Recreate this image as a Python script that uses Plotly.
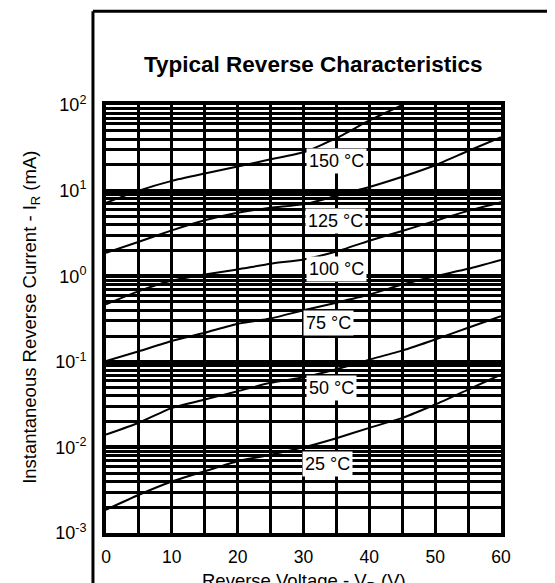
import math
import plotly.graph_objects as go

# Reverse voltage (V)
voltage = [0, 5, 10, 15, 20, 25, 30, 35, 40, 45, 50, 55, 60]

# Instantaneous reverse current (mA) per junction temperature
i_150 = [7.2, 10.0, 13.0, 15.8, 19.1, 23.2, 28.0, 41.0, 66.0, 100.0]
i_125 = [1.88, 2.53, 3.43, 4.5, 5.5, 6.3, 6.9, 8.7, 11.0, 14.5, 19.8, 29.0, 42.0]
i_100 = [0.47, 0.67, 0.89, 1.05, 1.2, 1.4, 1.57, 1.94, 2.6, 3.38, 4.43, 5.79, 7.3]
i_75 = [0.102, 0.133, 0.175, 0.218, 0.278, 0.32, 0.40, 0.49, 0.61, 0.80, 1.0, 1.22, 1.55]
i_50 = [0.0141, 0.0194, 0.029, 0.0362, 0.0454, 0.0568, 0.066, 0.082, 0.106, 0.135, 0.182, 0.25, 0.34]
i_25 = [0.00187, 0.0028, 0.0040, 0.00526, 0.0069, 0.0082, 0.0100, 0.0128, 0.0169, 0.0221, 0.0317, 0.0474, 0.071]

series = [i_150, i_125, i_100, i_75, i_50, i_25]

# Curve labels
label_text = ["150 °C", "125 °C", "100 °C", "75 °C", "50 °C", "25 °C"]
label_v = [35.0, 34.8, 35.0, 33.8, 34.2, 33.7]
label_i = [22.4, 4.42, 1.2, 0.286, 0.0497, 0.0064]

x_ticks = [0, 10, 20, 30, 40, 50, 60]
y_ticks = [1e-3, 1e-2, 1e-1, 1e0, 1e1, 1e2]
y_tick_text = ["10<sup>-3</sup>", "10<sup>-2</sup>", "10<sup>-1</sup>",
               "10<sup>0</sup>", "10<sup>1</sup>", "10<sup>2</sup>"]

FONT = "Arial, Liberation Sans, sans-serif"

fig = go.Figure()
for vals in series:
    fig.add_trace(go.Scatter(
        x=voltage[:len(vals)], y=vals, mode="lines",
        line=dict(color="black", width=2, shape="spline", smoothing=0.5),
        hoverinfo="skip", showlegend=False,
    ))

for t, v, i in zip(label_text, label_v, label_i):
    fig.add_annotation(x=v, y=math.log10(i), yref="y", xref="x", text=t, showarrow=False,
                       font=dict(family=FONT, size=18, color="black"),
                       bgcolor="white", borderpad=2)

# Title
fig.add_annotation(x=0.525, y=1.095, xref="paper", yref="paper",
                   text="<b>Typical Reverse Characteristics</b>", showarrow=False,
                   font=dict(family=FONT, size=22.5, color="black"),
                   xanchor="center", yanchor="middle")

# Y title
fig.add_annotation(x=-0.19, y=0.505, xref="paper", yref="paper",
                   text="Instantaneous Reverse Current - I<sub>R</sub> (mA)",
                   textangle=-90, showarrow=False,
                   font=dict(family=FONT, size=18.5, color="black"),
                   xanchor="center", yanchor="middle")

# X title
fig.add_annotation(x=0.5, y=-0.114, xref="paper", yref="paper",
                   text="Reverse Voltage - V<sub>R</sub> (V)", showarrow=False,
                   font=dict(family=FONT, size=18.5, color="black"),
                   xanchor="center", yanchor="middle")

# outer frame (left and top edge of the figure box)
fig.add_shape(type="line", xref="paper", yref="paper",
              x0=-0.033, x1=-0.033, y0=-0.3, y1=1.219,
              line=dict(color="black", width=3))
fig.add_shape(type="line", xref="paper", yref="paper",
              x0=-0.033, x1=1.5, y0=1.219, y1=1.219,
              line=dict(color="black", width=3))

fig.update_xaxes(
    range=[0, 60], tickvals=x_ticks, ticktext=[str(v) for v in x_ticks],
    showgrid=True, gridcolor="black", gridwidth=3,
    minor=dict(dtick=5, showgrid=True, gridcolor="black", gridwidth=3),
    showline=True, linecolor="black", linewidth=4, mirror=True,
    zeroline=False, ticks="", ticklabelstandoff=5,
    tickfont=dict(family=FONT, size=17.5, color="black"),
)
fig.update_yaxes(
    type="log", range=[-3, 2], tickvals=y_ticks, ticktext=y_tick_text,
    showgrid=True, gridcolor="black", gridwidth=4,
    minor=dict(dtick="D1", showgrid=True, gridcolor="black", gridwidth=3),
    showline=True, linecolor="black", linewidth=4, mirror=True,
    ticks="", ticklabelstandoff=12,
    tickfont=dict(family=FONT, size=18, color="black"),
)

fig.update_layout(
    width=555, height=583,
    margin=dict(l=98, r=62, t=97, b=58),
    paper_bgcolor="white", plot_bgcolor="white",
    font=dict(family=FONT, color="black"),
)

fig.write_html("out.html")
